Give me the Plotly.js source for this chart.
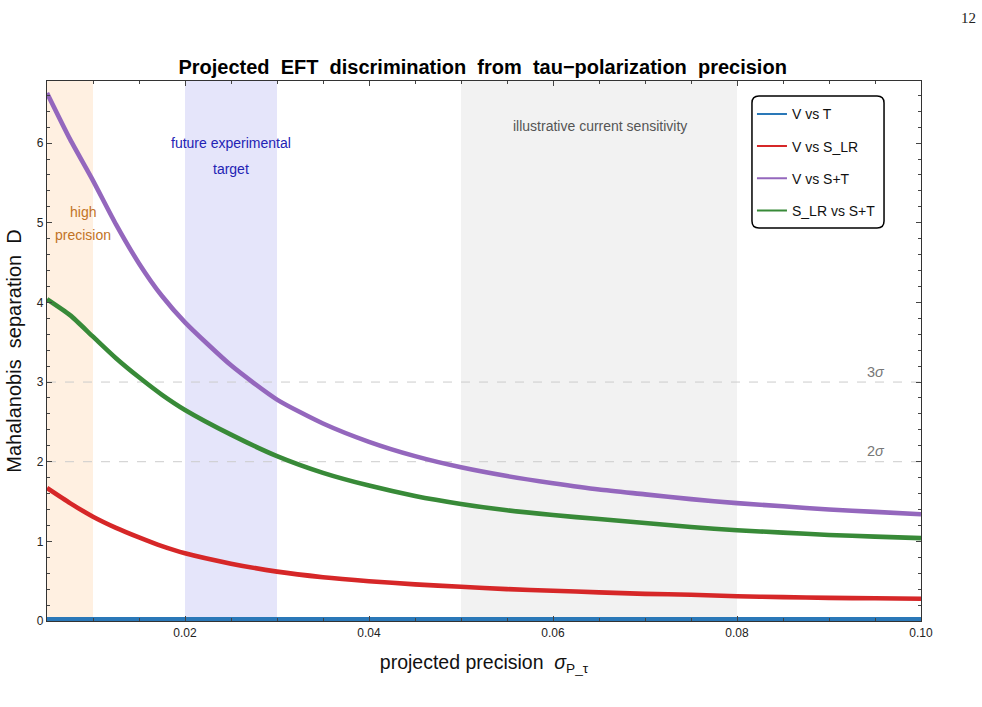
<!DOCTYPE html>
<html>
<head>
<meta charset="utf-8">
<script src="https://cdn.plot.ly/plotly-3.0.1.min.js"></script>
<style>
  html, body { margin: 0; padding: 0; background: #fff; }
  #chart { width: 982px; height: 707px; }
</style>
</head>
<body>
<div id="chart"></div>
<script>
// projected precision on the tau polarization
const sigmaP = [0.005, 0.0075, 0.010, 0.0125, 0.015, 0.0175, 0.020, 0.025, 0.030, 0.035,
                0.040, 0.045, 0.050, 0.055, 0.060, 0.065, 0.070, 0.075, 0.080, 0.085,
                0.090, 0.095, 0.100];

// Mahalanobis separation for each pair of hypotheses
const dVvsT   = [0.02, 0.02, 0.02, 0.02, 0.02, 0.02, 0.02, 0.02, 0.02, 0.02,
                 0.02, 0.02, 0.02, 0.02, 0.02, 0.02, 0.02, 0.02, 0.02, 0.02,
                 0.02, 0.02, 0.02];
const dVvsSLR = [1.67, 1.48, 1.31, 1.17, 1.05, 0.94, 0.85, 0.72, 0.62, 0.55,
                 0.50, 0.46, 0.43, 0.40, 0.38, 0.36, 0.34, 0.33, 0.31, 0.30,
                 0.29, 0.285, 0.28];
const dVvsST  = [6.63, 6.05, 5.53, 4.98, 4.49, 4.08, 3.75, 3.21, 2.78, 2.48,
                 2.25, 2.07, 1.93, 1.82, 1.73, 1.65, 1.59, 1.53, 1.48, 1.44,
                 1.40, 1.37, 1.34];
const dSLRvsST= [4.04, 3.84, 3.57, 3.30, 3.06, 2.84, 2.65, 2.34, 2.07, 1.86,
                 1.70, 1.57, 1.47, 1.39, 1.33, 1.28, 1.23, 1.18, 1.14, 1.11,
                 1.08, 1.06, 1.04];

const seriesNames  = ["V vs T", "V vs S_LR", "V vs S+T", "S_LR vs S+T"];
const seriesValues = [dVvsT, dVvsSLR, dVvsST, dSLRvsST];
const seriesColors = ["#2a78b8", "#d62728", "#9467bd", "#388a38"];

// precision regions
const bandHigh   = [0.005, 0.010];
const bandFuture = [0.020, 0.030];
const bandNow    = [0.050, 0.080];
const sigmaLevels = [2, 3];

const font = "Liberation Sans, Arial, Helvetica, sans-serif";

const traces = [];
seriesValues.forEach((vals, i) => {
  traces.push({
    x: sigmaP, y: vals, type: "scatter", mode: "lines",
    line: { color: seriesColors[i], width: 4.6, shape: "spline", smoothing: 0.6 },
    name: seriesNames[i], showlegend: false, hoverinfo: "skip"
  });
});
// legend entries with thin line samples
seriesNames.forEach((nm, i) => {
  traces.push({
    x: [null], y: [null], type: "scatter", mode: "lines",
    line: { color: seriesColors[i], width: 2 },
    name: nm, legendgroup: "g" + i, showlegend: true
  });
});

const bandShape = (b, col) => ({
  type: "rect", xref: "x", yref: "paper", x0: b[0], x1: b[1], y0: 0, y1: 1,
  fillcolor: col, line: { width: 0 }, layer: "below"
});

const shapes = [
  bandShape(bandHigh, "#fff0e1"),
  bandShape(bandFuture, "#e5e5fa"),
  bandShape(bandNow, "#f2f2f2")
];
sigmaLevels.forEach(lv => shapes.push({
  type: "line", xref: "paper", yref: "y", x0: 0, x1: 1, y0: lv, y1: lv,
  line: { color: "#cccccc", width: 1, dash: "dash" }, layer: "below"
}));

// rounded legend frame
(function () {
  const x0 = 0.8066, x1 = 0.9577, y0 = 0.7278, y1 = 0.9722;
  const rx = 7 / 874, ry = 7 / 540;
  const p = `M ${x0 + rx},${y1} L ${x1 - rx},${y1} Q ${x1},${y1} ${x1},${y1 - ry} ` +
            `L ${x1},${y0 + ry} Q ${x1},${y0} ${x1 - rx},${y0} ` +
            `L ${x0 + rx},${y0} Q ${x0},${y0} ${x0},${y0 + ry} ` +
            `L ${x0},${y1 - ry} Q ${x0},${y1} ${x0 + rx},${y1} Z`;
  shapes.push({ type: "path", xref: "paper", yref: "paper", path: p,
                line: { color: "#000", width: 1.5 }, fillcolor: "rgba(0,0,0,0)", layer: "above" });
})();

const txt = (x, y, text, color, size) => ({
  x: x, y: y, xref: "x", yref: "y", text: text, showarrow: false,
  font: { family: font, size: size, color: color }, xanchor: "center", yanchor: "middle"
});

const annotations = [
  txt(0.0089, 5.13, "high", "#c27326", 14),
  txt(0.0089, 4.85, "precision", "#c27326", 14),
  txt(0.02505, 6.0, "future experimental", "#2323b4", 14),
  txt(0.02505, 5.68, "target", "#2323b4", 14),
  txt(0.0651, 6.21, "illustrative current sensitivity", "#555555", 14),
  txt(0.0951, 3.13, "3<i>σ</i>", "#777777", 14.5),
  txt(0.0951, 2.13, "2<i>σ</i>", "#777777", 14.5),
  { x: 1.054, y: 1.1167, xref: "paper", yref: "paper", text: "12", showarrow: false,
    font: { family: "Liberation Serif, DejaVu Serif, serif", size: 15, color: "#222" },
    xanchor: "center", yanchor: "middle" }
];

const layout = {
  width: 982, height: 707,
  margin: { l: 47, r: 61, t: 81, b: 86 },
  paper_bgcolor: "#fff", plot_bgcolor: "#fff",
  font: { family: font, color: "#222" },
  title: {
    text: "<b>Projected\u00a0 EFT\u00a0 discrimination\u00a0 from\u00a0 tau\u2212polarization\u00a0 precision</b>",
    font: { family: font, size: 20, color: "#000" },
    x: 0.4915, xanchor: "center", y: 1 - 67 / 707, yanchor: "middle", yref: "container"
  },
  xaxis: {
    range: [0.005, 0.10], tickvals: [0.02, 0.04, 0.06, 0.08, 0.10], tickformat: ".2f",
    ticks: "inside", ticklen: 5, tickwidth: 1, tickcolor: "#444",
    minor: { dtick: 0.005, tick0: 0, ticks: "inside", ticklen: 3, tickcolor: "#444", showgrid: false },
    showline: true, linecolor: "#333", linewidth: 1.2, mirror: "ticks",
    showgrid: false, zeroline: false,
    tickfont: { family: font, size: 12, color: "#222" },
    title: { text: "projected precision\u00a0 <i>σ</i><sub>P_τ</sub>",
             font: { family: font, size: 19.5, color: "#111" }, standoff: 16 }
  },
  yaxis: {
    range: [0, 6.78], dtick: 1, tick0: 0,
    ticks: "inside", ticklen: 5, tickwidth: 1, tickcolor: "#444",
    minor: { dtick: 0.2, tick0: 0, ticks: "inside", ticklen: 3, tickcolor: "#444", showgrid: false },
    showline: true, linecolor: "#333", linewidth: 1.2, mirror: "ticks",
    showgrid: false, zeroline: false,
    tickfont: { family: font, size: 12, color: "#222" },
    title: { text: "Mahalanobis\u00a0 separation\u00a0 D",
             font: { family: font, size: 20, color: "#111" }, standoff: 9 }
  },
  legend: {
    x: 0.8066, xanchor: "left", y: 0.968, yanchor: "top",
    bgcolor: "rgba(255,255,255,0)", borderwidth: 0,
    font: { family: font, size: 14, color: "#111" },
    tracegroupgap: 11, itemwidth: 30
  },
  shapes: shapes,
  annotations: annotations,
  showlegend: true
};

Plotly.newPlot("chart", traces, layout, { displayModeBar: false, staticPlot: true });
</script>
</body>
</html>
